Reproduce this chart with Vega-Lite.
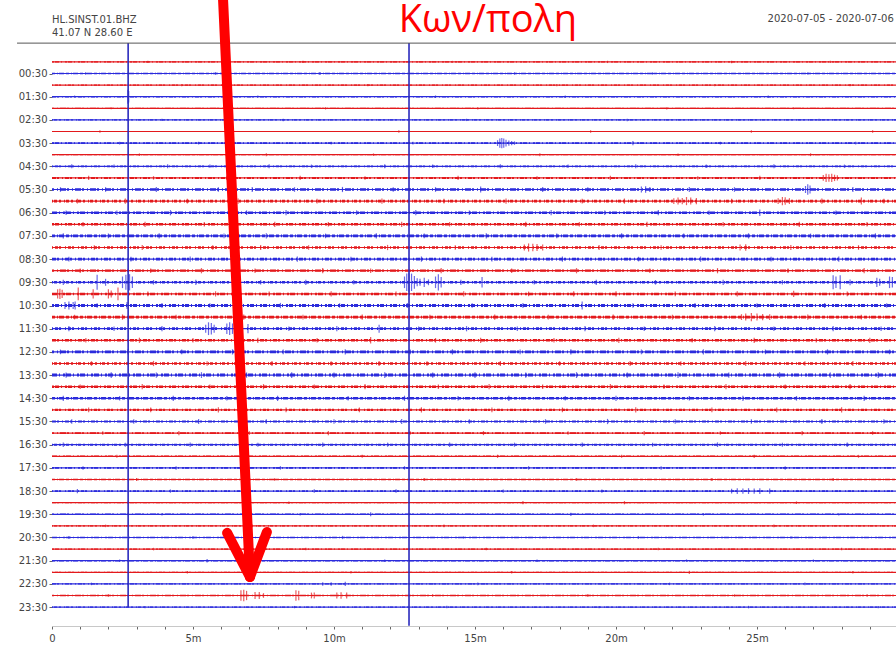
{
  "$schema": "https://vega.github.io/schema/vega-lite/v6.json",
  "width": 846,
  "height": 583,
  "autosize": "none",
  "padding": {"left": 52, "top": 43, "right": 0, "bottom": 23},
  "background": "white",
  "config": {"view": {"stroke": null}, "font": "DejaVu Sans"},
  "resolve": {"axis": {"x": "independent", "y": "independent"}},
  "datasets": {
    "traces": [
      {"tr":0,"n":0.10},{"tr":1,"n":0.12},{"tr":2,"n":0.10},{"tr":3,"n":0.12},{"tr":4,"n":0.10},{"tr":5,"n":0.12},
      {"tr":6,"n":0.10},{"tr":7,"n":0.14},{"tr":8,"n":0.11},{"tr":9,"n":0.155},{"tr":10,"n":0.17},{"tr":11,"n":0.22},
      {"tr":12,"n":0.22},{"tr":13,"n":0.22},{"tr":14,"n":0.21},{"tr":15,"n":0.24},{"tr":16,"n":0.21},{"tr":17,"n":0.22},
      {"tr":18,"n":0.19},{"tr":19,"n":0.22},{"tr":20,"n":0.22},{"tr":21,"n":0.24},{"tr":22,"n":0.22},{"tr":23,"n":0.24},
      {"tr":24,"n":0.22},{"tr":25,"n":0.22},{"tr":26,"n":0.21},{"tr":27,"n":0.26},{"tr":28,"n":0.22},{"tr":29,"n":0.22},
      {"tr":30,"n":0.19},{"tr":31,"n":0.19},{"tr":32,"n":0.155},{"tr":33,"n":0.17},{"tr":34,"n":0.12},{"tr":35,"n":0.155},
      {"tr":36,"n":0.12},{"tr":37,"n":0.14},{"tr":38,"n":0.11},{"tr":39,"n":0.14},{"tr":40,"n":0.11},{"tr":41,"n":0.13},
      {"tr":42,"n":0.12},{"tr":43,"n":0.14},{"tr":44,"n":0.11},{"tr":45,"n":0.12},{"tr":46,"n":0.14},{"tr":47,"n":0.12}
    ],
    "spikes": [
      {"tr":0,"m":3.4,"a":0.2},{"tr":0,"m":8.9,"a":0.2},{"tr":0,"m":14.2,"a":0.18},{"tr":0,"m":19.7,"a":0.2},{"tr":0,"m":24.1,"a":0.22},{"tr":0,"m":27.6,"a":0.2},
      {"tr":1,"m":1.2,"a":0.2},{"tr":1,"m":5.8,"a":0.22},{"tr":1,"m":9.5,"a":0.25},{"tr":1,"m":16.4,"a":0.2},{"tr":1,"m":21.3,"a":0.22},{"tr":1,"m":26.8,"a":0.2},
      {"tr":2,"m":4.6,"a":0.18},{"tr":2,"m":11.2,"a":0.2},{"tr":2,"m":17.9,"a":0.18},{"tr":2,"m":23.5,"a":0.2},{"tr":2,"m":28.3,"a":0.2},
      {"tr":3,"m":0.8,"a":0.2},{"tr":3,"m":7.3,"a":0.2},{"tr":3,"m":13.6,"a":0.22},{"tr":3,"m":18.2,"a":0.2},{"tr":3,"m":25.4,"a":0.2},{"tr":3,"m":2.69,"a":1.2},{"tr":3,"m":2.72,"a":1.0},
      {"tr":4,"m":2.1,"a":0.18},{"tr":4,"m":9.7,"a":0.2},{"tr":4,"m":15.1,"a":0.2},{"tr":4,"m":21.8,"a":0.2},{"tr":4,"m":26.3,"a":0.18},
      {"tr":5,"m":3.9,"a":0.2},{"tr":5,"m":8.2,"a":0.22},{"tr":5,"m":14.7,"a":0.2},{"tr":5,"m":20.4,"a":0.22},{"tr":5,"m":27.2,"a":0.2},
      {"tr":6,"m":1.7,"a":0.2},{"tr":6,"m":6.4,"a":0.2},{"tr":6,"m":12.3,"a":0.22},{"tr":6,"m":19.1,"a":0.2},{"tr":6,"m":24.8,"a":0.2},{"tr":6,"m":29.1,"a":0.2},
      {"tr":7,"m":2.4,"a":0.25},{"tr":7,"m":5.2,"a":0.22},{"tr":7,"m":9.9,"a":0.25},{"tr":7,"m":12.8,"a":0.22},{"tr":7,"m":20.6,"a":0.35},{"tr":7,"m":23.7,"a":0.25},{"tr":7,"m":28.5,"a":0.22},
      {"tr":7,"m":15.8,"a":0.5},{"tr":7,"m":15.88,"a":0.8},{"tr":7,"m":15.95,"a":0.9},{"tr":7,"m":16.02,"a":0.8},{"tr":7,"m":16.1,"a":0.6},{"tr":7,"m":16.2,"a":0.45},{"tr":7,"m":16.3,"a":0.35},{"tr":7,"m":16.4,"a":0.3},
      {"tr":8,"m":3.1,"a":0.22},{"tr":8,"m":7.6,"a":0.25},{"tr":8,"m":11.4,"a":0.22},{"tr":8,"m":17.3,"a":0.25},{"tr":8,"m":22.2,"a":0.22},{"tr":8,"m":26.9,"a":0.25},
      {"tr":9,"m":0.7,"a":0.35},{"tr":9,"m":2.2,"a":0.3},{"tr":9,"m":4.1,"a":0.35},{"tr":9,"m":5.6,"a":0.3},{"tr":9,"m":7.7,"a":0.35},{"tr":9,"m":9.2,"a":0.3},{"tr":9,"m":11.8,"a":0.35},
      {"tr":9,"m":13.5,"a":0.3},{"tr":9,"m":15.9,"a":0.35},{"tr":9,"m":18.3,"a":0.3},{"tr":9,"m":20.7,"a":0.35},{"tr":9,"m":23.2,"a":0.3},{"tr":9,"m":25.6,"a":0.35},{"tr":9,"m":28.1,"a":0.3},
      {"tr":10,"m":1.3,"a":0.35},{"tr":10,"m":3.6,"a":0.3},{"tr":10,"m":6.2,"a":0.35},{"tr":10,"m":8.8,"a":0.35},{"tr":10,"m":11.1,"a":0.3},{"tr":10,"m":14.4,"a":0.35},{"tr":10,"m":17.2,"a":0.3},
      {"tr":10,"m":19.8,"a":0.35},{"tr":10,"m":22.9,"a":0.3},{"tr":10,"m":25.1,"a":0.35},
      {"tr":10,"m":27.35,"a":0.5},{"tr":10,"m":27.45,"a":0.7},{"tr":10,"m":27.55,"a":0.65},{"tr":10,"m":27.65,"a":0.7},{"tr":10,"m":27.75,"a":0.55},{"tr":10,"m":27.85,"a":0.45},
      {"tr":11,"m":0.3,"a":0.4},{"tr":11,"m":1.9,"a":0.4},{"tr":11,"m":3.7,"a":0.45},{"tr":11,"m":5.9,"a":0.4},{"tr":11,"m":7.1,"a":0.45},{"tr":11,"m":8.6,"a":0.4},{"tr":11,"m":10.3,"a":0.45},
      {"tr":11,"m":12.1,"a":0.4},{"tr":11,"m":13.6,"a":0.4},{"tr":11,"m":17.4,"a":0.45},{"tr":11,"m":19.0,"a":0.4},{"tr":11,"m":22.6,"a":0.45},{"tr":11,"m":24.2,"a":0.4},{"tr":11,"m":28.4,"a":0.45},
      {"tr":11,"m":15.2,"a":0.5},{"tr":11,"m":20.9,"a":0.5},{"tr":11,"m":21.05,"a":0.55},{"tr":11,"m":21.2,"a":0.45},{"tr":11,"m":26.72,"a":0.6},{"tr":11,"m":26.8,"a":0.9},{"tr":11,"m":26.88,"a":0.7},
      {"tr":12,"m":0.9,"a":0.4},{"tr":12,"m":2.6,"a":0.45},{"tr":12,"m":4.8,"a":0.4},{"tr":12,"m":6.6,"a":0.45},{"tr":12,"m":9.4,"a":0.4},{"tr":12,"m":11.7,"a":0.45},{"tr":12,"m":13.9,"a":0.4},
      {"tr":12,"m":16.1,"a":0.45},{"tr":12,"m":18.8,"a":0.4},{"tr":12,"m":20.3,"a":0.45},{"tr":12,"m":24.1,"a":0.4},{"tr":12,"m":27.3,"a":0.45},{"tr":12,"m":29.5,"a":0.4},
      {"tr":12,"m":22.05,"a":0.5},{"tr":12,"m":22.2,"a":0.6},{"tr":12,"m":22.35,"a":0.55},{"tr":12,"m":22.5,"a":0.7},{"tr":12,"m":22.65,"a":0.6},{"tr":12,"m":22.85,"a":0.55},
      {"tr":12,"m":25.75,"a":0.5},{"tr":12,"m":25.9,"a":0.7},{"tr":12,"m":26.0,"a":0.65},{"tr":12,"m":26.15,"a":0.5},{"tr":12,"m":28.7,"a":0.6},
      {"tr":13,"m":0.5,"a":0.4},{"tr":13,"m":2.3,"a":0.4},{"tr":13,"m":4.2,"a":0.45},{"tr":13,"m":6.9,"a":0.4},{"tr":13,"m":8.3,"a":0.45},{"tr":13,"m":10.8,"a":0.4},{"tr":13,"m":12.9,"a":0.45},
      {"tr":13,"m":14.8,"a":0.4},{"tr":13,"m":17.7,"a":0.45},{"tr":13,"m":19.6,"a":0.4},{"tr":13,"m":21.5,"a":0.45},{"tr":13,"m":23.3,"a":0.4},{"tr":13,"m":25.1,"a":0.55},{"tr":13,"m":27.8,"a":0.4},
      {"tr":14,"m":1.1,"a":0.4},{"tr":14,"m":3.3,"a":0.45},{"tr":14,"m":5.4,"a":0.4},{"tr":14,"m":7.9,"a":0.45},{"tr":14,"m":9.8,"a":0.4},{"tr":14,"m":12.4,"a":0.45},{"tr":14,"m":14.1,"a":0.4},
      {"tr":14,"m":16.8,"a":0.45},{"tr":14,"m":18.7,"a":0.4},{"tr":14,"m":21.1,"a":0.45},{"tr":14,"m":23.8,"a":0.4},{"tr":14,"m":26.5,"a":0.45},{"tr":14,"m":28.9,"a":0.4},
      {"tr":15,"m":0.4,"a":0.45},{"tr":15,"m":2.0,"a":0.4},{"tr":15,"m":3.8,"a":0.45},{"tr":15,"m":6.1,"a":0.4},{"tr":15,"m":7.6,"a":0.45},{"tr":15,"m":9.7,"a":0.4},{"tr":15,"m":11.5,"a":0.45},
      {"tr":15,"m":13.2,"a":0.4},{"tr":15,"m":15.4,"a":0.45},{"tr":15,"m":17.9,"a":0.4},{"tr":15,"m":20.2,"a":0.45},{"tr":15,"m":22.4,"a":0.4},{"tr":15,"m":24.7,"a":0.45},{"tr":15,"m":26.9,"a":0.4},{"tr":15,"m":29.2,"a":0.45},
      {"tr":16,"m":1.5,"a":0.4},{"tr":16,"m":3.2,"a":0.45},{"tr":16,"m":5.7,"a":0.4},{"tr":16,"m":7.4,"a":0.45},{"tr":16,"m":9.1,"a":0.4},{"tr":16,"m":11.9,"a":0.45},{"tr":16,"m":14.3,"a":0.4},
      {"tr":16,"m":19.4,"a":0.45},{"tr":16,"m":21.6,"a":0.4},{"tr":16,"m":26.2,"a":0.45},{"tr":16,"m":28.6,"a":0.4},
      {"tr":16,"m":16.75,"a":0.5},{"tr":16,"m":16.9,"a":0.7},{"tr":16,"m":17.05,"a":0.65},{"tr":16,"m":17.2,"a":0.6},{"tr":16,"m":17.4,"a":0.5},{"tr":16,"m":24.4,"a":0.5},{"tr":16,"m":24.6,"a":0.55},
      {"tr":17,"m":0.6,"a":0.4},{"tr":17,"m":2.8,"a":0.4},{"tr":17,"m":4.9,"a":0.45},{"tr":17,"m":6.5,"a":0.4},{"tr":17,"m":8.7,"a":0.45},{"tr":17,"m":10.6,"a":0.4},{"tr":17,"m":13.1,"a":0.45},
      {"tr":17,"m":15.6,"a":0.4},{"tr":17,"m":18.1,"a":0.45},{"tr":17,"m":20.8,"a":0.4},{"tr":17,"m":23.0,"a":0.45},{"tr":17,"m":25.5,"a":0.4},{"tr":17,"m":27.9,"a":0.45},
      {"tr":18,"m":1.0,"a":0.4},{"tr":18,"m":3.5,"a":0.4},{"tr":18,"m":5.3,"a":0.45},{"tr":18,"m":7.2,"a":0.4},{"tr":18,"m":9.6,"a":0.45},{"tr":18,"m":11.3,"a":0.4},{"tr":18,"m":13.8,"a":0.45},
      {"tr":18,"m":16.3,"a":0.4},{"tr":18,"m":18.6,"a":0.45},{"tr":18,"m":21.2,"a":0.4},{"tr":18,"m":23.6,"a":0.45},{"tr":18,"m":26.1,"a":0.4},{"tr":18,"m":28.8,"a":0.45},
      {"tr":19,"m":0.4,"a":0.45},{"tr":19,"m":3.6,"a":0.4},{"tr":19,"m":5.1,"a":0.45},{"tr":19,"m":7.4,"a":0.4},{"tr":19,"m":9.0,"a":0.45},{"tr":19,"m":10.7,"a":0.4},{"tr":19,"m":14.5,"a":0.45},
      {"tr":19,"m":17.1,"a":0.4},{"tr":19,"m":19.3,"a":0.45},{"tr":19,"m":21.4,"a":0.4},{"tr":19,"m":23.8,"a":0.45},{"tr":19,"m":25.9,"a":0.4},
      {"tr":19,"m":1.6,"a":1.3},{"tr":19,"m":1.9,"a":0.6},{"tr":19,"m":2.5,"a":1.0},{"tr":19,"m":2.62,"a":1.3},{"tr":19,"m":2.75,"a":1.4},{"tr":19,"m":2.85,"a":1.0},
      {"tr":19,"m":12.5,"a":1.0},{"tr":19,"m":12.58,"a":1.5},{"tr":19,"m":12.66,"a":1.7},{"tr":19,"m":12.75,"a":1.5},{"tr":19,"m":12.85,"a":1.1},{"tr":19,"m":12.95,"a":0.7},{"tr":19,"m":13.05,"a":0.6},
      {"tr":19,"m":13.2,"a":0.8},{"tr":19,"m":13.35,"a":0.5},{"tr":19,"m":13.6,"a":1.0},{"tr":19,"m":13.7,"a":1.4},{"tr":19,"m":13.8,"a":0.9},{"tr":19,"m":15.25,"a":0.9},
      {"tr":19,"m":27.7,"a":1.2},{"tr":19,"m":27.8,"a":1.0},{"tr":19,"m":27.95,"a":1.2},{"tr":19,"m":28.3,"a":0.5},{"tr":19,"m":29.25,"a":0.8},{"tr":19,"m":29.35,"a":0.6},{"tr":19,"m":29.7,"a":1.0},{"tr":19,"m":29.8,"a":0.9},
      {"tr":20,"m":3.4,"a":0.4},{"tr":20,"m":5.8,"a":0.45},{"tr":20,"m":7.7,"a":0.4},{"tr":20,"m":9.9,"a":0.45},{"tr":20,"m":12.2,"a":0.4},{"tr":20,"m":14.6,"a":0.45},{"tr":20,"m":16.9,"a":0.4},
      {"tr":20,"m":18.5,"a":0.45},{"tr":20,"m":22.1,"a":0.4},{"tr":20,"m":24.3,"a":0.45},{"tr":20,"m":28.2,"a":0.4},
      {"tr":20,"m":0.2,"a":0.8},{"tr":20,"m":0.28,"a":0.9},{"tr":20,"m":0.36,"a":0.7},{"tr":20,"m":0.93,"a":1.1},{"tr":20,"m":1.46,"a":0.8},{"tr":20,"m":2.0,"a":0.8},{"tr":20,"m":2.1,"a":0.6},
      {"tr":20,"m":2.34,"a":1.1},{"tr":20,"m":20.0,"a":0.45},{"tr":20,"m":26.3,"a":0.55},
      {"tr":21,"m":1.6,"a":0.4},{"tr":21,"m":3.9,"a":0.45},{"tr":21,"m":5.6,"a":0.4},{"tr":21,"m":8.1,"a":0.45},{"tr":21,"m":10.2,"a":0.4},{"tr":21,"m":12.6,"a":0.45},{"tr":21,"m":14.9,"a":0.4},
      {"tr":21,"m":16.7,"a":0.45},{"tr":21,"m":20.6,"a":0.4},{"tr":21,"m":22.8,"a":0.45},{"tr":21,"m":25.0,"a":0.4},{"tr":21,"m":27.4,"a":0.45},{"tr":21,"m":29.6,"a":0.4},
      {"tr":21,"m":0.46,"a":0.6},{"tr":21,"m":0.6,"a":0.7},{"tr":21,"m":0.75,"a":0.6},{"tr":21,"m":0.82,"a":0.7},{"tr":21,"m":2.66,"a":0.6},{"tr":21,"m":18.8,"a":0.7},
      {"tr":22,"m":0.8,"a":0.4},{"tr":22,"m":2.5,"a":0.45},{"tr":22,"m":4.4,"a":0.4},{"tr":22,"m":6.8,"a":0.45},{"tr":22,"m":8.9,"a":0.4},{"tr":22,"m":11.0,"a":0.45},{"tr":22,"m":13.4,"a":0.4},
      {"tr":22,"m":15.7,"a":0.45},{"tr":22,"m":17.6,"a":0.4},{"tr":22,"m":19.9,"a":0.45},{"tr":22,"m":22.0,"a":0.4},{"tr":22,"m":26.8,"a":0.45},{"tr":22,"m":28.7,"a":0.4},
      {"tr":22,"m":24.45,"a":0.5},{"tr":22,"m":24.6,"a":0.6},{"tr":22,"m":24.8,"a":0.7},{"tr":22,"m":25.0,"a":0.6},{"tr":22,"m":25.2,"a":0.55},{"tr":22,"m":25.45,"a":0.5},
      {"tr":23,"m":0.6,"a":0.45},{"tr":23,"m":2.2,"a":0.4},{"tr":23,"m":3.9,"a":0.45},{"tr":23,"m":8.4,"a":0.4},{"tr":23,"m":10.1,"a":0.45},{"tr":23,"m":13.0,"a":0.4},{"tr":23,"m":14.7,"a":0.45},
      {"tr":23,"m":16.5,"a":0.4},{"tr":23,"m":18.9,"a":0.45},{"tr":23,"m":21.0,"a":0.4},{"tr":23,"m":23.5,"a":0.45},{"tr":23,"m":25.6,"a":0.4},{"tr":23,"m":27.7,"a":0.45},{"tr":23,"m":29.4,"a":0.4},
      {"tr":23,"m":5.45,"a":0.7},{"tr":23,"m":5.55,"a":1.1},{"tr":23,"m":5.65,"a":1.0},{"tr":23,"m":5.75,"a":0.7},{"tr":23,"m":6.2,"a":0.9},{"tr":23,"m":6.3,"a":1.1},{"tr":23,"m":6.4,"a":0.9},
      {"tr":23,"m":6.95,"a":0.8},{"tr":23,"m":11.6,"a":0.7},
      {"tr":24,"m":1.2,"a":0.4},{"tr":24,"m":3.1,"a":0.45},{"tr":24,"m":5.0,"a":0.4},{"tr":24,"m":7.3,"a":0.45},{"tr":24,"m":9.4,"a":0.4},{"tr":24,"m":11.3,"a":0.55},{"tr":24,"m":13.6,"a":0.4},
      {"tr":24,"m":15.2,"a":0.45},{"tr":24,"m":17.8,"a":0.4},{"tr":24,"m":20.1,"a":0.45},{"tr":24,"m":22.7,"a":0.4},{"tr":24,"m":24.9,"a":0.45},{"tr":24,"m":27.1,"a":0.4},{"tr":24,"m":29.0,"a":0.45},
      {"tr":25,"m":0.3,"a":0.4},{"tr":25,"m":2.7,"a":0.45},{"tr":25,"m":4.6,"a":0.4},{"tr":25,"m":6.4,"a":0.45},{"tr":25,"m":8.2,"a":0.4},{"tr":25,"m":10.4,"a":0.45},{"tr":25,"m":12.7,"a":0.4},
      {"tr":25,"m":14.2,"a":0.45},{"tr":25,"m":16.6,"a":0.4},{"tr":25,"m":18.4,"a":0.45},{"tr":25,"m":20.9,"a":0.4},{"tr":25,"m":23.1,"a":0.45},{"tr":25,"m":25.3,"a":0.4},{"tr":25,"m":27.5,"a":0.45},{"tr":25,"m":29.7,"a":0.4},
      {"tr":26,"m":1.4,"a":0.4},{"tr":26,"m":3.6,"a":0.45},{"tr":26,"m":5.5,"a":0.4},{"tr":26,"m":7.8,"a":0.45},{"tr":26,"m":9.9,"a":0.4},{"tr":26,"m":11.6,"a":0.45},{"tr":26,"m":13.3,"a":0.4},
      {"tr":26,"m":15.9,"a":0.45},{"tr":26,"m":18.0,"a":0.4},{"tr":26,"m":20.5,"a":0.45},{"tr":26,"m":22.3,"a":0.4},{"tr":26,"m":24.6,"a":0.45},{"tr":26,"m":26.7,"a":0.4},{"tr":26,"m":28.4,"a":0.45},
      {"tr":27,"m":0.5,"a":0.45},{"tr":27,"m":2.1,"a":0.5},{"tr":27,"m":3.7,"a":0.45},{"tr":27,"m":5.3,"a":0.5},{"tr":27,"m":6.9,"a":0.45},{"tr":27,"m":8.5,"a":0.5},{"tr":27,"m":10.0,"a":0.45},
      {"tr":27,"m":11.8,"a":0.5},{"tr":27,"m":13.5,"a":0.45},{"tr":27,"m":15.0,"a":0.5},{"tr":27,"m":16.8,"a":0.45},{"tr":27,"m":18.6,"a":0.5},{"tr":27,"m":20.4,"a":0.45},{"tr":27,"m":22.2,"a":0.5},
      {"tr":27,"m":24.0,"a":0.45},{"tr":27,"m":25.8,"a":0.5},{"tr":27,"m":27.6,"a":0.45},{"tr":27,"m":29.3,"a":0.5},
      {"tr":28,"m":1.0,"a":0.4},{"tr":28,"m":3.2,"a":0.45},{"tr":28,"m":5.6,"a":0.4},{"tr":28,"m":7.5,"a":0.45},{"tr":28,"m":9.3,"a":0.4},{"tr":28,"m":11.1,"a":0.45},{"tr":28,"m":13.7,"a":0.4},
      {"tr":28,"m":15.5,"a":0.45},{"tr":28,"m":17.4,"a":0.4},{"tr":28,"m":19.8,"a":0.45},{"tr":28,"m":21.7,"a":0.4},{"tr":28,"m":23.9,"a":0.45},{"tr":28,"m":26.0,"a":0.4},{"tr":28,"m":28.3,"a":0.45},
      {"tr":29,"m":0.4,"a":0.45},{"tr":29,"m":2.4,"a":0.4},{"tr":29,"m":4.3,"a":0.45},{"tr":29,"m":6.2,"a":0.4},{"tr":29,"m":8.0,"a":0.45},{"tr":29,"m":10.5,"a":0.4},{"tr":29,"m":12.5,"a":0.45},
      {"tr":29,"m":14.4,"a":0.4},{"tr":29,"m":16.2,"a":0.45},{"tr":29,"m":18.2,"a":0.4},{"tr":29,"m":20.0,"a":0.45},{"tr":29,"m":22.6,"a":0.4},{"tr":29,"m":24.5,"a":0.45},{"tr":29,"m":26.4,"a":0.4},{"tr":29,"m":28.8,"a":0.45},
      {"tr":30,"m":1.3,"a":0.4},{"tr":30,"m":3.5,"a":0.4},{"tr":30,"m":5.9,"a":0.45},{"tr":30,"m":8.3,"a":0.4},{"tr":30,"m":10.9,"a":0.4},{"tr":30,"m":13.1,"a":0.45},{"tr":30,"m":15.6,"a":0.4},
      {"tr":30,"m":18.1,"a":0.4},{"tr":30,"m":20.7,"a":0.45},{"tr":30,"m":23.4,"a":0.4},{"tr":30,"m":25.7,"a":0.4},{"tr":30,"m":28.0,"a":0.45},
      {"tr":31,"m":0.7,"a":0.4},{"tr":31,"m":2.9,"a":0.4},{"tr":31,"m":5.2,"a":0.45},{"tr":31,"m":7.6,"a":0.4},{"tr":31,"m":10.0,"a":0.4},{"tr":31,"m":12.4,"a":0.45},{"tr":31,"m":14.8,"a":0.4},
      {"tr":31,"m":17.5,"a":0.4},{"tr":31,"m":19.7,"a":0.45},{"tr":31,"m":22.1,"a":0.4},{"tr":31,"m":24.8,"a":0.4},{"tr":31,"m":27.3,"a":0.45},{"tr":31,"m":29.5,"a":0.4},
      {"tr":32,"m":1.8,"a":0.3},{"tr":32,"m":4.5,"a":0.35},{"tr":32,"m":7.0,"a":0.3},{"tr":32,"m":9.8,"a":0.35},{"tr":32,"m":12.7,"a":0.3},{"tr":32,"m":15.3,"a":0.35},{"tr":32,"m":18.3,"a":0.3},
      {"tr":32,"m":21.0,"a":0.35},{"tr":32,"m":23.7,"a":0.3},{"tr":32,"m":26.6,"a":0.35},{"tr":32,"m":29.1,"a":0.3},
      {"tr":33,"m":0.4,"a":0.4},{"tr":33,"m":2.6,"a":0.35},{"tr":33,"m":4.9,"a":0.4},{"tr":33,"m":7.3,"a":0.35},{"tr":33,"m":9.6,"a":0.4},{"tr":33,"m":11.9,"a":0.35},{"tr":33,"m":14.1,"a":0.4},
      {"tr":33,"m":16.4,"a":0.35},{"tr":33,"m":18.8,"a":0.4},{"tr":33,"m":21.3,"a":0.35},{"tr":33,"m":23.6,"a":0.4},{"tr":33,"m":25.9,"a":0.35},{"tr":33,"m":28.2,"a":0.4},
      {"tr":34,"m":2.3,"a":0.25},{"tr":34,"m":6.7,"a":0.28},{"tr":34,"m":11.0,"a":0.25},{"tr":34,"m":15.8,"a":0.28},{"tr":34,"m":20.2,"a":0.25},{"tr":34,"m":24.9,"a":0.28},{"tr":34,"m":28.6,"a":0.25},
      {"tr":35,"m":1.1,"a":0.3},{"tr":35,"m":4.4,"a":0.3},{"tr":35,"m":8.1,"a":0.3},{"tr":35,"m":12.5,"a":0.3},{"tr":35,"m":16.9,"a":0.3},{"tr":35,"m":21.6,"a":0.3},{"tr":35,"m":26.0,"a":0.3},
      {"tr":36,"m":3.0,"a":0.25},{"tr":36,"m":7.9,"a":0.25},{"tr":36,"m":13.2,"a":0.25},{"tr":36,"m":18.6,"a":0.25},{"tr":36,"m":23.4,"a":0.25},{"tr":36,"m":27.7,"a":0.25},
      {"tr":37,"m":0.9,"a":0.35},{"tr":37,"m":4.2,"a":0.28},{"tr":37,"m":9.3,"a":0.3},{"tr":37,"m":12.2,"a":0.3},{"tr":37,"m":16.0,"a":0.28},{"tr":37,"m":19.5,"a":0.28},
      {"tr":37,"m":24.1,"a":0.4},{"tr":37,"m":24.3,"a":0.5},{"tr":37,"m":24.5,"a":0.45},{"tr":37,"m":24.7,"a":0.5},{"tr":37,"m":24.9,"a":0.45},{"tr":37,"m":25.1,"a":0.5},{"tr":37,"m":25.45,"a":0.45},
      {"tr":38,"m":2.7,"a":0.22},{"tr":38,"m":8.4,"a":0.22},{"tr":38,"m":16.7,"a":0.28},{"tr":38,"m":20.3,"a":0.28},{"tr":38,"m":26.4,"a":0.22},
      {"tr":39,"m":3.9,"a":0.22},{"tr":39,"m":8.8,"a":0.22},{"tr":39,"m":11.3,"a":0.35},{"tr":39,"m":18.4,"a":0.28},{"tr":39,"m":23.1,"a":0.22},{"tr":39,"m":27.9,"a":0.22},
      {"tr":40,"m":1.9,"a":0.22},{"tr":40,"m":7.1,"a":0.22},{"tr":40,"m":13.9,"a":0.22},{"tr":40,"m":19.2,"a":0.22},{"tr":40,"m":25.6,"a":0.22},
      {"tr":41,"m":0.6,"a":0.25},{"tr":41,"m":5.0,"a":0.22},{"tr":41,"m":10.3,"a":0.28},{"tr":41,"m":14.6,"a":0.22},{"tr":41,"m":20.8,"a":0.22},{"tr":41,"m":26.2,"a":0.22},
      {"tr":42,"m":3.6,"a":0.22},{"tr":42,"m":9.0,"a":0.22},{"tr":42,"m":15.4,"a":0.22},{"tr":42,"m":21.5,"a":0.22},{"tr":42,"m":28.0,"a":0.22},
      {"tr":43,"m":2.4,"a":0.22},{"tr":43,"m":5.5,"a":0.3},{"tr":43,"m":11.8,"a":0.22},{"tr":43,"m":17.2,"a":0.22},{"tr":43,"m":22.5,"a":0.22},{"tr":43,"m":27.0,"a":0.22},
      {"tr":44,"m":4.8,"a":0.22},{"tr":44,"m":10.6,"a":0.22},{"tr":44,"m":16.3,"a":0.22},{"tr":44,"m":22.6,"a":0.28},{"tr":44,"m":28.4,"a":0.22},
      {"tr":45,"m":1.4,"a":0.22},{"tr":45,"m":9.6,"a":0.3},{"tr":45,"m":9.9,"a":0.3},{"tr":45,"m":10.4,"a":0.35},{"tr":45,"m":15.1,"a":0.22},{"tr":45,"m":21.9,"a":0.22},{"tr":45,"m":26.7,"a":0.22},
      {"tr":46,"m":2.0,"a":0.22},{"tr":46,"m":13.5,"a":0.22},{"tr":46,"m":19.0,"a":0.22},{"tr":46,"m":24.2,"a":0.22},{"tr":46,"m":28.9,"a":0.22},
      {"tr":46,"m":6.7,"a":0.9},{"tr":46,"m":6.8,"a":1.0},{"tr":46,"m":6.9,"a":0.8},{"tr":46,"m":7.2,"a":0.6},{"tr":46,"m":7.35,"a":0.6},{"tr":46,"m":7.5,"a":0.4},{"tr":46,"m":8.65,"a":0.9},
      {"tr":46,"m":8.75,"a":0.8},{"tr":46,"m":9.2,"a":0.5},{"tr":46,"m":9.3,"a":0.5},{"tr":46,"m":10.1,"a":0.5},{"tr":46,"m":10.25,"a":0.55},{"tr":46,"m":10.45,"a":0.5},
      {"tr":47,"m":3.3,"a":0.2},{"tr":47,"m":8.6,"a":0.2},{"tr":47,"m":14.0,"a":0.22},{"tr":47,"m":19.4,"a":0.2},{"tr":47,"m":24.7,"a":0.22},{"tr":47,"m":29.3,"a":0.2}
    ],
    "glitches": [
      {"tr":3,"m":2.70,"top":-1.62,"bot":47.0},
      {"tr":19,"m":12.66,"top":-1.62,"bot":48.6}
    ],
    "arrow": [
      {"x0":6.05,"y0":-6.2,"x1":7.02,"y1":44.4},
      {"x0":6.21,"y0":40.6,"x1":7.02,"y1":44.4},
      {"x0":7.62,"y0":40.53,"x1":7.02,"y1":44.4}
    ]
  },
  "layer": [
    {
      "data": {"name": "traces"},
      "mark": {"type": "rule", "strokeWidth": 1.2},
      "encoding": {
        "x": {
          "datum": 0, "type": "quantitative",
          "scale": {"domain": [0, 30], "nice": false, "zero": false},
          "axis": {
            "values": [0,1,2,3,4,5,6,7,8,9,10,11,12,13,14,15,16,17,18,19,20,21,22,23,24,25,26,27,28,29,30],
            "labelExpr": "datum.value % 5 === 0 && datum.value < 30 ? (datum.value === 0 ? '0' : datum.value + 'm') : ''",
            "title": null, "grid": false, "tickSize": 3, "tickColor": "#666", "domainColor": "#c8c8c8",
            "labelColor": "#444", "labelFontSize": 10, "labelFont": "DejaVu Sans", "labelPadding": 4,
            "labelOverlap": false, "labelFlush": false
          }
        },
        "x2": {"datum": 30},
        "y": {
          "field": "tr", "type": "quantitative",
          "scale": {"domain": [-1.63, 48.63], "reverse": true, "nice": false, "zero": false},
          "axis": {
            "values": [1,3,5,7,9,11,13,15,17,19,21,23,25,27,29,31,33,35,37,39,41,43,45,47],
            "labelExpr": "(floor(datum.value / 2) < 10 ? '0' : '') + floor(datum.value / 2) + ':30'",
            "title": null, "grid": false, "domain": false, "tickSize": 3, "tickColor": "#666",
            "labelColor": "#444", "labelFontSize": 10, "labelFont": "DejaVu Sans", "labelPadding": 2
          }
        },
        "color": {"condition": {"test": "datum.tr % 2 === 1", "value": "#2b2bdc"}, "value": "#e3191c"}
      }
    },
    {
      "data": {"name": "traces"},
      "mark": {"type": "rule"},
      "encoding": {
        "x": {"datum": 0, "type": "quantitative", "scale": {"domain": [0, 30], "nice": false, "zero": false}, "axis": null},
        "x2": {"datum": 30},
        "y": {"field": "tr", "type": "quantitative", "scale": {"domain": [-1.63, 48.63], "reverse": true, "nice": false, "zero": false}, "axis": null},
        "strokeWidth": {"field": "n", "type": "quantitative", "scale": {"domain": [0, 1], "range": [0, 11.6]}, "legend": null},
        "strokeDash": {
          "field": "tr", "type": "ordinal", "legend": null,
          "scale": {"range": [[2,1,4,2,1,3],[3,2,1,1,5,2],[1,2,3,1,2,4],[4,1,2,3,1,2],[2,3,1,2,6,1],[1,1,3,2,2,3],[5,2,1,3,2,1]]}
        },
        "color": {"condition": {"test": "datum.tr % 2 === 1", "value": "#2b2bdc"}, "value": "#e3191c"}
      }
    },
    {
      "data": {"name": "spikes"},
      "mark": {"type": "tick", "orient": "vertical", "thickness": 1.2},
      "encoding": {
        "x": {"field": "m", "type": "quantitative", "scale": {"domain": [0, 30], "nice": false, "zero": false}, "axis": null},
        "y": {"field": "tr", "type": "quantitative", "scale": {"domain": [-1.63, 48.63], "reverse": true, "nice": false, "zero": false}, "axis": null},
        "size": {"field": "a", "type": "quantitative", "scale": {"domain": [0, 1], "range": [0, 11.6]}, "legend": null},
        "color": {"condition": {"test": "datum.tr % 2 === 1", "value": "#2b2bdc"}, "value": "#e3191c"}
      }
    },
    {
      "data": {"name": "glitches"},
      "mark": {"type": "rule", "strokeWidth": 1.6, "color": "#2a2abd"},
      "encoding": {
        "x": {"field": "m", "type": "quantitative", "scale": {"domain": [0, 30], "nice": false, "zero": false}, "axis": null},
        "y": {"field": "top", "type": "quantitative", "scale": {"domain": [-1.63, 48.63], "reverse": true, "nice": false, "zero": false}, "axis": null},
        "y2": {"field": "bot"}
      }
    },
    {
      "data": {"values": [{"edge": "top"}]},
      "mark": {"type": "rule", "strokeWidth": 1, "color": "#555"},
      "encoding": {
        "x": {"datum": -1.24, "type": "quantitative", "scale": {"domain": [0, 30], "nice": false, "zero": false}, "axis": null},
        "x2": {"datum": 30},
        "y": {"datum": -1.62, "type": "quantitative", "scale": {"domain": [-1.63, 48.63], "reverse": true, "nice": false, "zero": false}, "axis": null}
      }
    },
    {
      "data": {"name": "arrow"},
      "mark": {"type": "rule", "strokeWidth": 10, "strokeCap": "round", "color": "#ff0000"},
      "encoding": {
        "x": {"field": "x0", "type": "quantitative", "scale": {"domain": [0, 30], "nice": false, "zero": false}, "axis": null},
        "x2": {"field": "x1"},
        "y": {"field": "y0", "type": "quantitative", "scale": {"domain": [-1.63, 48.63], "reverse": true, "nice": false, "zero": false}, "axis": null},
        "y2": {"field": "y1"}
      }
    },
    {
      "data": {"values": [
        {"txt": "HL.SINST.01.BHZ", "m": 0, "v": -3.61},
        {"txt": "41.07 N 28.60 E", "m": 0, "v": -2.45}
      ]},
      "mark": {"type": "text", "align": "left", "baseline": "middle", "fontSize": 10, "font": "DejaVu Sans", "color": "#444"},
      "encoding": {
        "x": {"field": "m", "type": "quantitative", "scale": {"domain": [0, 30], "nice": false, "zero": false}, "axis": null},
        "y": {"field": "v", "type": "quantitative", "scale": {"domain": [-1.63, 48.63], "reverse": true, "nice": false, "zero": false}, "axis": null},
        "text": {"field": "txt"}
      }
    },
    {
      "data": {"values": [{"txt": "2020-07-05 - 2020-07-06", "m": 29.85, "v": -3.66}]},
      "mark": {"type": "text", "align": "right", "baseline": "middle", "fontSize": 10, "font": "DejaVu Sans", "color": "#444"},
      "encoding": {
        "x": {"field": "m", "type": "quantitative", "scale": {"domain": [0, 30], "nice": false, "zero": false}, "axis": null},
        "y": {"field": "v", "type": "quantitative", "scale": {"domain": [-1.63, 48.63], "reverse": true, "nice": false, "zero": false}, "axis": null},
        "text": {"field": "txt"}
      }
    },
    {
      "data": {"values": [{"txt": "Κων/πολη", "m": 15.46, "v": -2.58}]},
      "mark": {"type": "text", "align": "center", "baseline": "alphabetic", "fontSize": 38, "font": "Open Sans", "color": "#ff0000"},
      "encoding": {
        "x": {"field": "m", "type": "quantitative", "scale": {"domain": [0, 30], "nice": false, "zero": false}, "axis": null},
        "y": {"field": "v", "type": "quantitative", "scale": {"domain": [-1.63, 48.63], "reverse": true, "nice": false, "zero": false}, "axis": null},
        "text": {"field": "txt"}
      }
    }
  ]
}
